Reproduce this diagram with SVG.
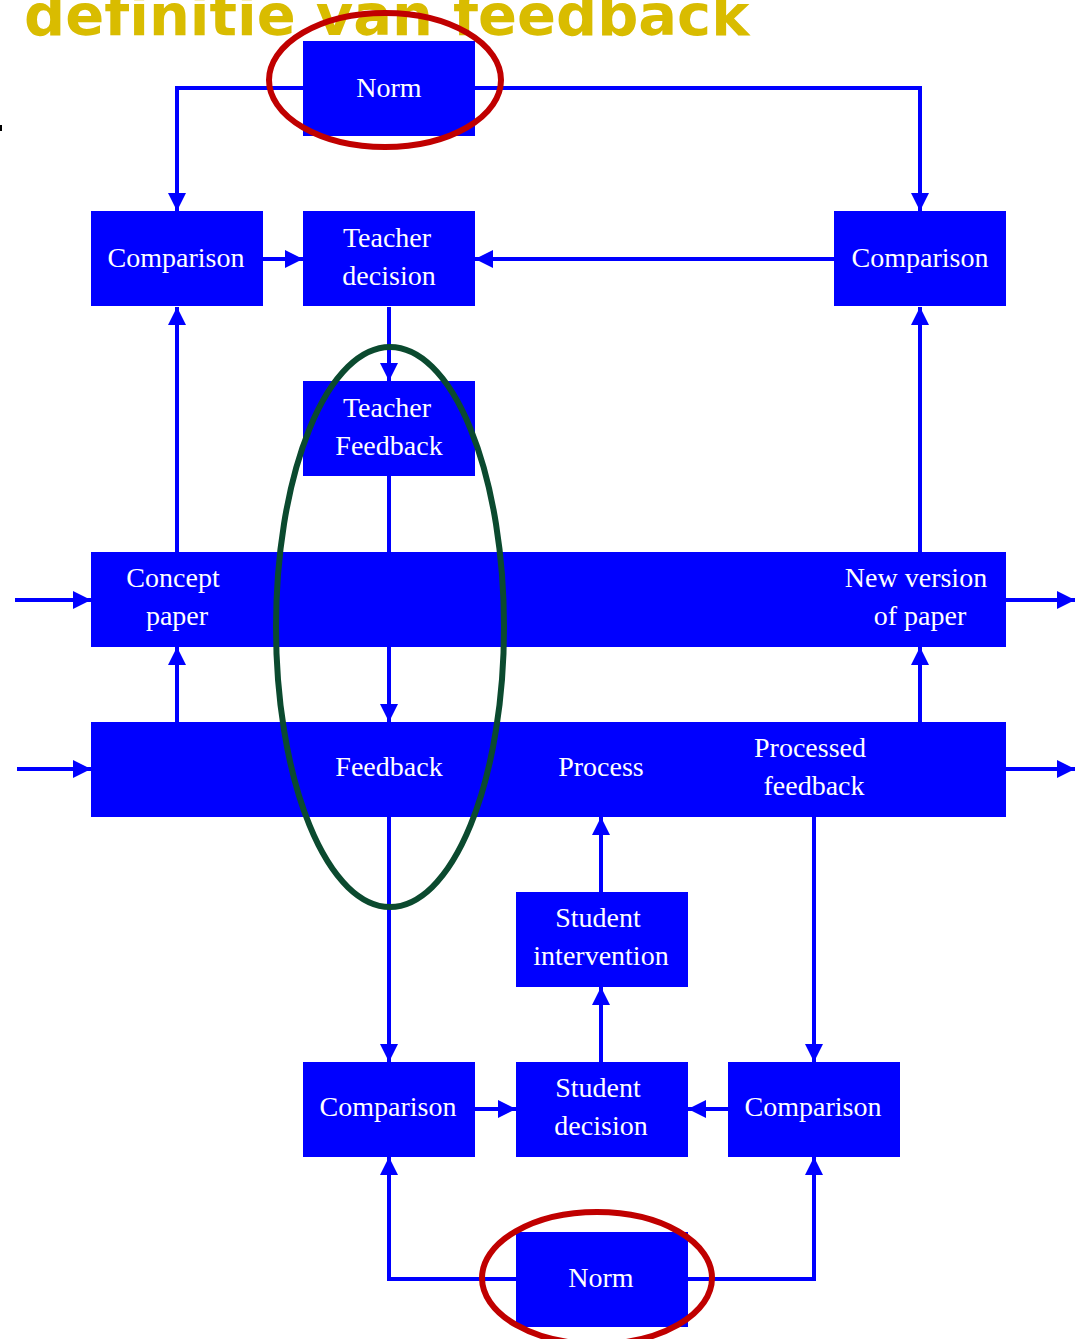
<svg xmlns="http://www.w3.org/2000/svg" width="1082" height="1339" viewBox="0 0 1082 1339">
<style>
.box{fill:#0000FF}
.t{fill:#FFFFFF;font-family:"Liberation Serif","Times New Roman",serif;font-size:28px;text-anchor:middle}
.c{fill:none;stroke:#0000FF;stroke-width:4}
.title{fill:#D9BC00;font-family:"DejaVu Sans",sans-serif;font-weight:bold;font-size:57.5px;font-variant-ligatures:none}
.ring{fill:none;stroke-width:6}
</style>
<defs>
<marker id="ah" markerUnits="userSpaceOnUse" markerWidth="20" markerHeight="20" viewBox="0 0 20 20" refX="18" refY="10" orient="auto">
<path d="M0,1 L18,10 L0,19 Z" fill="#0000FF"/>
</marker>
</defs>
<text class="title" x="24" y="35">definitie van feedback</text>
<rect x="0" y="125" width="2" height="6" fill="#000"/>
<g id="connectors">
<path class="c" d="M303,88 H177 V211" marker-end="url(#ah)"/>
<path class="c" d="M475,88 H920 V211" marker-end="url(#ah)"/>
<path class="c" d="M263,259 H303" marker-end="url(#ah)"/>
<path class="c" d="M834,259 H475" marker-end="url(#ah)"/>
<path class="c" d="M389,307 V381" marker-end="url(#ah)"/>
<path class="c" d="M177,552 V307" marker-end="url(#ah)"/>
<path class="c" d="M920,552 V307" marker-end="url(#ah)"/>
<path class="c" d="M389,476 V722" marker-end="url(#ah)"/>
<path class="c" d="M15,600 H91" marker-end="url(#ah)"/>
<path class="c" d="M17,769 H91" marker-end="url(#ah)"/>
<path class="c" d="M1006,600 H1075" marker-end="url(#ah)"/>
<path class="c" d="M1006,769 H1075" marker-end="url(#ah)"/>
<path class="c" d="M177,722 V647" marker-end="url(#ah)"/>
<path class="c" d="M920,722 V647" marker-end="url(#ah)"/>
<path class="c" d="M601,892 V817" marker-end="url(#ah)"/>
<path class="c" d="M389,817 V1062" marker-end="url(#ah)"/>
<path class="c" d="M814,817 V1062" marker-end="url(#ah)"/>
<path class="c" d="M601,1062 V987" marker-end="url(#ah)"/>
<path class="c" d="M475,1109 H516" marker-end="url(#ah)"/>
<path class="c" d="M728,1109 H688" marker-end="url(#ah)"/>
<path class="c" d="M516,1279 H389 V1157" marker-end="url(#ah)"/>
<path class="c" d="M688,1279 H814 V1157" marker-end="url(#ah)"/>
</g>
<g id="norm-top"><rect class="box" x="303" y="41" width="172" height="95"/><text class="t" x="389" y="97">Norm</text></g>
<g id="comparison-tl"><rect class="box" x="91" y="211" width="172" height="95"/><text class="t" x="176" y="267">Comparison</text></g>
<g id="teacher-decision"><rect class="box" x="303" y="211" width="172" height="95"/><text class="t" x="387" y="247">Teacher</text><text class="t" x="389" y="285">decision</text></g>
<g id="comparison-tr"><rect class="box" x="834" y="211" width="172" height="95"/><text class="t" x="920" y="267">Comparison</text></g>
<g id="teacher-feedback"><rect class="box" x="303" y="381" width="172" height="95"/><text class="t" x="387" y="417">Teacher</text><text class="t" x="389" y="455">Feedback</text></g>
<g id="paper-band"><rect class="box" x="91" y="552" width="915" height="95"/><text class="t" x="173" y="587">Concept</text><text class="t" x="177" y="625">paper</text><text class="t" x="916" y="587">New version</text><text class="t" x="920" y="625">of paper</text></g>
<g id="feedback-band"><rect class="box" x="91" y="722" width="915" height="95"/><text class="t" x="389" y="776">Feedback</text><text class="t" x="601" y="776">Process</text><text class="t" x="810" y="757">Processed</text><text class="t" x="814" y="795">feedback</text></g>
<g id="student-intervention"><rect class="box" x="516" y="892" width="172" height="95"/><text class="t" x="598" y="927">Student</text><text class="t" x="601" y="965">intervention</text></g>
<g id="comparison-bl"><rect class="box" x="303" y="1062" width="172" height="95"/><text class="t" x="388" y="1116">Comparison</text></g>
<g id="student-decision"><rect class="box" x="516" y="1062" width="172" height="95"/><text class="t" x="598" y="1097">Student</text><text class="t" x="601" y="1135">decision</text></g>
<g id="comparison-br"><rect class="box" x="728" y="1062" width="172" height="95"/><text class="t" x="813" y="1116">Comparison</text></g>
<g id="norm-bottom"><rect class="box" x="516" y="1232" width="172" height="95"/><text class="t" x="601" y="1287">Norm</text></g>
<g id="highlights">
<ellipse class="ring" cx="385" cy="80" rx="116" ry="67" stroke="#C00000"/>
<ellipse class="ring" cx="597" cy="1278" rx="115" ry="66" stroke="#C00000"/>
<ellipse class="ring" cx="390" cy="627" rx="114" ry="280" stroke="#0B4A2F"/>
</g>
</svg>
